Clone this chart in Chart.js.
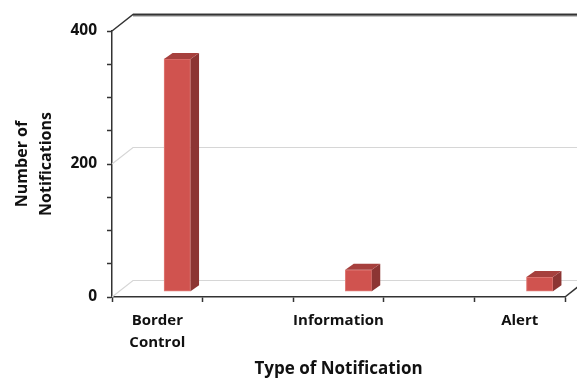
<!DOCTYPE html>
<html>
<head>
<meta charset="utf-8">
<script src="https://cdn.jsdelivr.net/npm/chart.js@4/dist/chart.umd.min.js"></script>
<style>
  html, body { margin: 0; padding: 0; background: #fff; }
  #wrap { width: 577px; height: 381px; }
</style>
</head>
<body>
<div id="wrap"><canvas id="c" width="577" height="381"></canvas></div>
<script>
// Notification counts by type
const categories = ['Border Control', 'Information', 'Alert'];
const categoryLabels = [['Border', 'Control'], ['Information'], ['Alert']];
const notificationCounts = [350, 33, 22];
const yLabelValues = [0, 200, 400];
const backWallValues = [0, 200];
const xTickValues = [-0.25, 0, 0.25, 0.75, 1, 1.25, 1.75, 2, 2.25];

// Oblique depth of the plot box and of each bar
const WALL_DX = 21, WALL_DY = -16.5;
const BAR_SHIFT_X = 20, BAR_SHIFT_Y = -5.3;
const BAR_DX = 8.5, BAR_DY = -6;

const FONT = '"Open Sans", "Liberation Sans", sans-serif';

const depthPlugin = {
  id: 'depthPlugin',
  beforeDatasetsDraw(chart) {
    const { ctx, chartArea, scales } = chart;
    const y = scales.y;
    const L = chartArea.left, R = chartArea.right;
    const W = chart.width;
    ctx.save();
    // back wall gridlines (floor and 200)
    ctx.strokeStyle = '#d6d6d6';
    ctx.lineWidth = 1.2;
    backWallValues.forEach(v => {
      const py = y.getPixelForValue(v);
      ctx.beginPath();
      ctx.moveTo(L, py);
      ctx.lineTo(L + WALL_DX, py + WALL_DY);
      ctx.lineTo(W, py + WALL_DY);
      ctx.stroke();
    });
    // top edge of the box
    const pt = y.getPixelForValue(400);
    ctx.strokeStyle = '#8a8a8a';
    ctx.lineWidth = 3;
    ctx.beginPath();
    ctx.moveTo(L + WALL_DX, pt + WALL_DY + 0.5);
    ctx.lineTo(W, pt + WALL_DY + 0.5);
    ctx.stroke();
    ctx.strokeStyle = '#333';
    ctx.lineWidth = 1.5;
    ctx.beginPath();
    ctx.moveTo(L, pt);
    ctx.lineTo(L + WALL_DX, pt + WALL_DY);
    ctx.lineTo(W, pt + WALL_DY);
    ctx.stroke();
    // right end of the floor edge
    const p0 = y.getPixelForValue(0);
    ctx.beginPath();
    ctx.moveTo(R, p0);
    ctx.lineTo(R + WALL_DX, p0 + WALL_DY);
    ctx.stroke();
    ctx.restore();

    // bars sit partway into the depth
    ctx.save();
    ctx.translate(BAR_SHIFT_X, BAR_SHIFT_Y);
  },
  afterDatasetsDraw(chart) {
    const { ctx } = chart;
    const meta = chart.getDatasetMeta(0);
    meta.data.forEach(bar => {
      const { x, y, base, width } = bar.getProps(['x', 'y', 'base', 'width'], true);
      const l = x - width / 2, r = x + width / 2;
      // side face
      ctx.fillStyle = '#8c3533';
      ctx.beginPath();
      ctx.moveTo(r, base);
      ctx.lineTo(r + BAR_DX, base + BAR_DY);
      ctx.lineTo(r + BAR_DX, y + BAR_DY);
      ctx.lineTo(r, y);
      ctx.closePath();
      ctx.fill();
      // top face
      ctx.fillStyle = '#a6403d';
      ctx.beginPath();
      ctx.moveTo(l, y);
      ctx.lineTo(l + BAR_DX, y + BAR_DY);
      ctx.lineTo(r + BAR_DX, y + BAR_DY);
      ctx.lineTo(r, y);
      ctx.closePath();
      ctx.fill();
    });
    ctx.restore();
  }
};

new Chart(document.getElementById('c'), {
  type: 'bar',
  data: {
    datasets: [{
      data: notificationCounts.map((v, i) => ({ x: i, y: v })),
      backgroundColor: '#d0534f',
      borderColor: '#e07d79',
      borderWidth: 1,
      borderSkipped: false,
      barThickness: 26.5,
      clip: false
    }]
  },
  plugins: [depthPlugin],
  options: {
    responsive: false,
    animation: false,
    events: [],
    layout: { padding: { left: 10, right: 12, top: 31, bottom: 0 } },
    plugins: { legend: { display: false }, tooltip: { enabled: false } },
    scales: {
      x: {
        type: 'linear',
        min: -0.25,
        max: 2.25,
        offset: false,
        afterBuildTicks(scale) {
          scale.ticks = xTickValues.map(v => ({ value: v }));
        },
        afterFit(scale) { scale.height = 381 - 297; },
        border: { display: true, color: '#333', width: 1.5 },
        grid: {
          offset: false,
          drawOnChartArea: false,
          tickLength: 5,
          tickColor: ctx => (ctx.tick && Number.isInteger(ctx.tick.value)) ? 'rgba(0,0,0,0)' : '#333',
          tickWidth: 1.5
        },
        ticks: {
          autoSkip: false,
          maxRotation: 0,
          padding: 8,
          color: '#111',
          font: { family: FONT, size: 15, weight: 'bold', lineHeight: 1.45 },
          callback: v => Number.isInteger(v) ? categoryLabels[v] : ''
        },
        title: {
          display: true,
          text: 'Type of Notification',
          color: '#111',
          font: { family: FONT, size: 17, weight: 'bold' },
          padding: { top: 4, bottom: 2 }
        }
      },
      y: {
        min: 0,
        max: 400,
        afterFit(scale) { scale.width = 112 - 10; },
        border: { display: true, color: '#333', width: 1.5 },
        grid: {
          drawOnChartArea: false,
          tickLength: 5,
          tickColor: '#333',
          tickWidth: 1.5
        },
        ticks: {
          stepSize: 50,
          padding: 10,
          color: '#111',
          font: { family: FONT, size: 15.5, weight: 'bold' },
          callback: v => yLabelValues.includes(v) ? String(v) : ''
        },
        title: {
          display: true,
          text: ['Number of', 'Notifications'],
          color: '#111',
          font: { family: FONT, size: 16, weight: 'bold', lineHeight: 1.5 },
          padding: { top: 0, bottom: 0 }
        }
      }
    }
  }
});
</script>
</body>
</html>
